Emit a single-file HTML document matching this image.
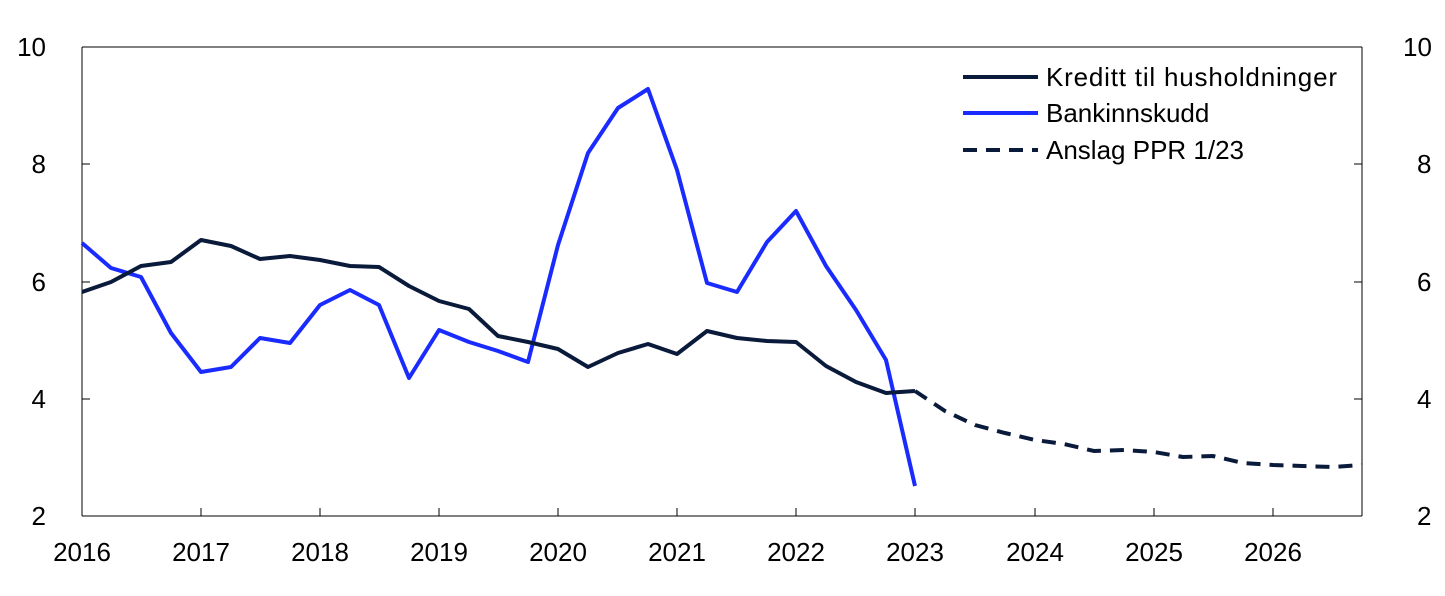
<!DOCTYPE html>
<html><head><meta charset="utf-8"><style>body{margin:0;background:#fff}svg{display:block}text{font-family:"Liberation Sans",sans-serif;font-size:26px;fill:#000}</style></head><body>
<svg width="1445" height="596" viewBox="0 0 1445 596">
<g stroke="#000" stroke-width="1" fill="none">
<line x1="82" y1="47" x2="82" y2="516"/><line x1="1362" y1="47" x2="1362" y2="516"/>
<line x1="82" y1="516" x2="1362" y2="516"/><line x1="82" y1="47" x2="1362" y2="47"/>
<path d="M82 47h8M82 164h8M82 282h8M82 399h8M1362 47h-8M1362 164h-8M1362 282h-8M1362 399h-8"/>
<path d="M201 516v-8M320 516v-8M439 516v-8M558 516v-8M677 516v-8M796 516v-8M915 516v-8M1035 516v-8M1154 516v-8M1273 516v-8"/>
</g>
<g text-anchor="end"><text x="46" y="56">10</text><text x="46" y="173">8</text><text x="46" y="291">6</text><text x="46" y="408">4</text><text x="46" y="525">2</text></g>
<g text-anchor="start"><text x="1403" y="56">10</text><text x="1417" y="173">8</text><text x="1417" y="291">6</text><text x="1417" y="408">4</text><text x="1417" y="525">2</text></g>
<g text-anchor="middle"><text x="82" y="561">2016</text><text x="201" y="561">2017</text><text x="320" y="561">2018</text><text x="439" y="561">2019</text><text x="558" y="561">2020</text><text x="677" y="561">2021</text><text x="796" y="561">2022</text><text x="915" y="561">2023</text><text x="1035" y="561">2024</text><text x="1154" y="561">2025</text><text x="1273" y="561">2026</text></g>
<polyline fill="none" stroke="#1a2bff" stroke-width="4" stroke-linejoin="round" points="82,243 111,268 141,277 171,333 201,372 231,367 260,338 290,343 320,305 350,290 379,305 409,378 439,330 469,342 498,351 528,362 558,245 588,153 618,108 648,89 677,170 707,283 737,292 767,242 796,211 826,266 856,310 886,360 915,486"/>
<polyline fill="none" stroke="#0a1a3a" stroke-width="4" stroke-linejoin="round" points="82,292 111,282 141,266 171,262 201,240 231,246 260,259 290,256 320,260 350,266 379,267 409,286 439,301 469,309 498,336 528,342 558,349 588,367 618,353 648,344 677,354 707,331 737,338 767,341 796,342 826,366 856,382 886,393 915,391"/>
<polyline fill="none" stroke="#0a1a3a" stroke-width="4" stroke-dasharray="14,9" points="915,391 945,411 975,425 1005,433 1035,440 1064,444 1094,451 1124,450 1154,452 1183,457 1213,456 1243,463 1273,465 1302,466 1332,467 1362,465"/>
<line x1="963" y1="77" x2="1038" y2="77" stroke="#0a1a3a" stroke-width="4"/>
<line x1="963" y1="113" x2="1038" y2="113" stroke="#1a2bff" stroke-width="4"/>
<line x1="963" y1="150" x2="1038" y2="150" stroke="#0a1a3a" stroke-width="4" stroke-dasharray="14,9"/>
<text x="1046" y="86" textLength="291">Kreditt til husholdninger</text>
<text x="1046" y="122">Bankinnskudd</text>
<text x="1046" y="159">Anslag PPR 1/23</text>
</svg></body></html>
